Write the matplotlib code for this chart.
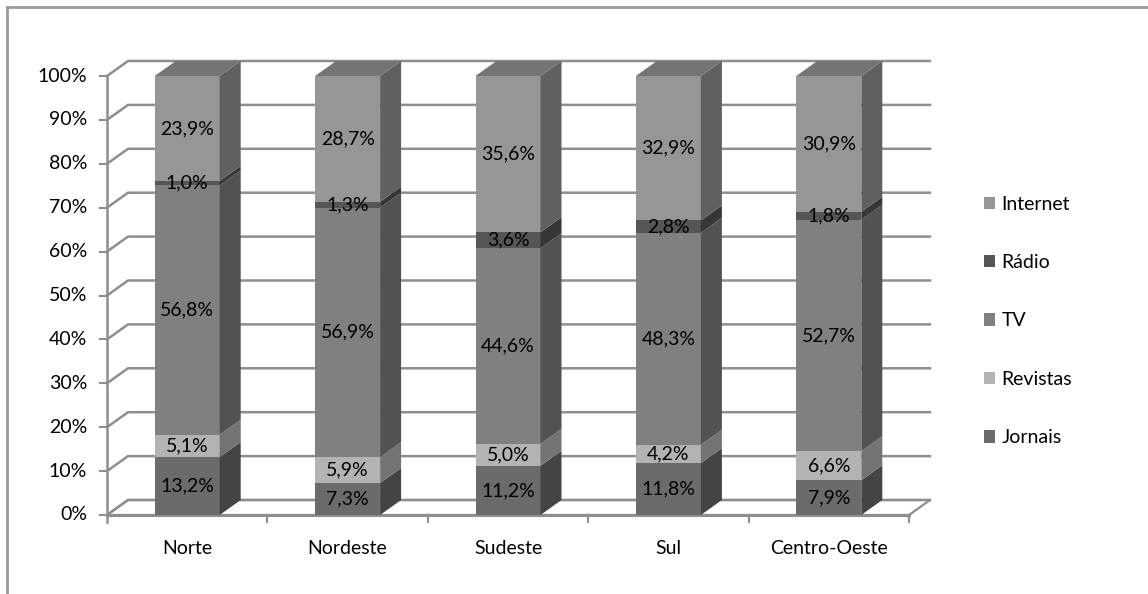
import matplotlib
matplotlib.use('Agg')
import matplotlib.pyplot as plt
from matplotlib.patches import Polygon, Patch
from matplotlib.lines import Line2D
import numpy as np

regions = ['Norte', 'Nordeste', 'Sudeste', 'Sul', 'Centro-Oeste']
series = ['Jornais', 'Revistas', 'TV', 'Rádio', 'Internet']
jornais = [13.2, 7.3, 11.2, 11.8, 7.9]
revistas = [5.1, 5.9, 5.0, 4.2, 6.6]
tv = [56.8, 56.9, 44.6, 48.3, 52.7]
radio = [1.0, 1.3, 3.6, 2.8, 1.8]
internet = [23.9, 28.7, 35.6, 32.9, 30.9]
y_ticks = list(range(0, 101, 10))
colors = ['#6b6b6b', '#b3b3b3', '#808080', '#555555', '#969696']

plt.rcParams['font.family'] = ['Lato', 'DejaVu Sans']
FS = 14
GRID = '#8e8e8e'

W, H = 1148, 594
fig = plt.figure(figsize=(W / 100, H / 100), dpi=100)
L, R, B, T = 107, 909, 515, 76
ax = fig.add_axes([L / W, 1 - B / H, (R - L) / W, (B - T) / H])
ax.set_xlim(0, 5)
ax.set_ylim(0, 100)
ax.axis('off')
px_x = 5 / (R - L)
px_y = 100 / (B - T)
DX = 21 * px_x
DY = 15 * px_y
n = len(regions)


def shade(c, f):
    r, g, b = matplotlib.colors.to_rgb(c)
    return (r * f, g * f, b * f)


# floor
ax.add_patch(Polygon([(0, 0), (n, 0), (n + DX, DY), (DX, DY)], closed=True,
                     facecolor='white', edgecolor=GRID, lw=1.6, zorder=1, clip_on=False))
# back wall gridlines + left wall diagonals
for y in y_ticks:
    ax.plot([0, DX, n + DX], [y, y + DY, y + DY], color=GRID, lw=1.8,
            clip_on=False, zorder=1.5, solid_joinstyle='miter')
    ax.plot([-7 * px_x, 0], [y, y], color=GRID, lw=1.5, clip_on=False, zorder=1.5)
    ax.text(-20 * px_x, y, f'{y}%', ha='right', va='center', fontsize=FS)
ax.plot([0, 0], [-7 * px_y, 100], color=GRID, lw=1.8, clip_on=False, zorder=1.6)
ax.plot([0, n], [0, 0], color=GRID, lw=2.2, clip_on=False, zorder=1.6)
for k in range(1, n + 1):
    ax.plot([k, k], [0, -7 * px_y], color=GRID, lw=1.5, clip_on=False, zorder=1.6)

data = np.array([jornais, revistas, tv, radio, internet])
hw = 32.5 * px_x
for i, reg in enumerate(regions):
    tot = data[:, i].sum()
    x0, x1 = i + 0.5 - hw, i + 0.5 + hw
    cum = 0.0
    for s in range(len(series)):
        h = data[s, i] / tot * 100
        c = colors[s]
        ax.add_patch(Polygon([(x0, cum), (x1, cum), (x1, cum + h), (x0, cum + h)],
                             closed=True, facecolor=c, edgecolor='none', zorder=3, clip_on=False))
        ax.add_patch(Polygon([(x1, cum), (x1 + DX, cum + DY), (x1 + DX, cum + h + DY), (x1, cum + h)],
                             closed=True, facecolor=shade(c, 0.64), edgecolor='none', zorder=3, clip_on=False))
        ax.text(i + 0.5, cum + h / 2, f'{data[s, i]:.1f}%'.replace('.', ','),
                ha='center', va='center', fontsize=FS, zorder=10)
        cum += h
    ax.add_patch(Polygon([(x0, cum), (x1, cum), (x1 + DX, cum + DY), (x0 + DX, cum + DY)],
                         closed=True, facecolor=shade(colors[-1], 0.77), edgecolor='none', zorder=3, clip_on=False))
    ax.text(i + 0.5, -33 * px_y, reg, ha='center', va='center', fontsize=FS)

handles = [Patch(facecolor=colors[s], edgecolor='none', label=series[s]) for s in reversed(range(len(series)))]
fig.legend(handles=handles, loc='center left', bbox_to_anchor=(976 / W, 1 - 321 / H),
           frameon=False, fontsize=FS, handlelength=0.6, handleheight=0.6,
           handletextpad=0.3, labelspacing=2.13, borderaxespad=0)

# outer border (left and top)
fig.add_artist(Line2D([7 / W, 7 / W], [0, 1 - 7 / H], color='#9a9a9a', lw=2))
fig.add_artist(Line2D([7 / W, 1], [1 - 7 / H, 1 - 7 / H], color='#9a9a9a', lw=2))

fig.savefig('out.png', dpi=100)
